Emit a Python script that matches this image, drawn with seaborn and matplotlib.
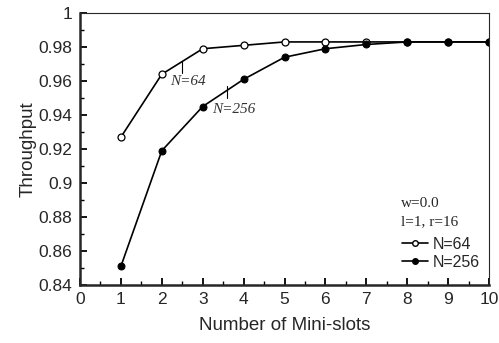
import pandas as pd
import matplotlib
matplotlib.use("Agg")
import matplotlib.pyplot as plt
import seaborn as sns
from matplotlib.lines import Line2D
from matplotlib.ticker import MultipleLocator

# Data
mini_slots = [1, 2, 3, 4, 5, 6, 7, 8, 9, 10]
thr_n64 = [0.927, 0.964, 0.979, 0.981, 0.983, 0.983, 0.983, 0.983, 0.983, 0.983]
thr_n256 = [0.851, 0.919, 0.945, 0.961, 0.974, 0.979, 0.9815, 0.983, 0.983, 0.983]

df = pd.DataFrame({
    "slots": mini_slots * 2,
    "thr": thr_n64 + thr_n256,
    "N": ["N=64"] * len(mini_slots) + ["N=256"] * len(mini_slots),
})

sns.set_style("ticks")
plt.rcParams['font.family'] = ['Liberation Sans', 'DejaVu Sans']

fig = plt.figure(figsize=(4.99, 3.43), dpi=100)
ax = fig.add_axes([0.1603, 0.169, 0.8197, 0.793])

# draw both series
sns.lineplot(data=df[df["N"] == "N=64"], x="slots", y="thr", ax=ax,
             color="black", lw=1.2, marker="o", markersize=5,
             markerfacecolor="white", markeredgecolor="black", markeredgewidth=0.9)
sns.lineplot(data=df[df["N"] == "N=256"], x="slots", y="thr", ax=ax,
             color="black", lw=1.2, marker="o", markersize=5,
             markerfacecolor="black", markeredgecolor="black")

ax.set_xlim(0, 10)
ax.set_ylim(0.84, 1.0)
ax.xaxis.set_major_locator(MultipleLocator(1))
ax.xaxis.set_minor_locator(MultipleLocator(0.5))
ax.yaxis.set_minor_locator(MultipleLocator(0.01))
ax.set_yticks([0.84, 0.86, 0.88, 0.9, 0.92, 0.94, 0.96, 0.98, 1.0])
ax.set_yticklabels(["0.84", "0.86", "0.88", "0.9", "0.92", "0.94", "0.96", "0.98", "1"])

ax.tick_params(which="both", direction="in", top=False, right=False,
               labelsize=12.5, color="black")
ax.tick_params(which="major", length=5, width=1.3)
ax.tick_params(axis="x", which="major", pad=5)
ax.tick_params(axis="y", which="major", pad=5.5)
ax.tick_params(which="minor", length=3, width=1.0)

for s in ["left", "bottom"]:
    ax.spines[s].set_linewidth(1.8)
for s in ["top", "right"]:
    ax.spines[s].set_visible(True)
    ax.spines[s].set_linewidth(0.8)

ax.set_xlabel("Number of Mini-slots", fontsize=13.5, labelpad=7)
ax.set_ylabel("Throughput", fontsize=13.5, labelpad=1)

# curve labels with little pointer lines
serif = ['Liberation Serif', 'DejaVu Serif']
ax.plot([2.5, 2.5], [0.9718, 0.9648], color="black", lw=0.8)
ax.text(2.2, 0.9595, "N=64", family=serif, style="italic", fontsize=11,
        color="#333333", va="center")
ax.plot([3.6, 3.6], [0.9568, 0.9502], color="black", lw=0.8)
ax.text(3.24, 0.9435, "N=256", family=serif, style="italic", fontsize=11,
        color="#333333", va="center")

# legend with parameter notes
ax.text(7.85, 0.888, "w=0.0", family=serif, fontsize=11, va="center")
ax.text(7.85, 0.877, "l=1, r=16", family=serif, fontsize=11, va="center")
handles = [
    Line2D([], [], color="black", lw=1.2, marker="o", markersize=4,
           markerfacecolor="white", markeredgecolor="black"),
    Line2D([], [], color="black", lw=1.2, marker="o", markersize=4,
           markerfacecolor="black", markeredgecolor="black"),
]
ax.legend(handles, ["N=64", "N=256"], loc="lower right", frameon=False,
          fontsize=11.5, handlelength=1.6, handletextpad=0.3,
          labelspacing=0.2, borderaxespad=0.2, bbox_to_anchor=(1.0, 0.02))

fig.savefig("out.png", dpi=100)
